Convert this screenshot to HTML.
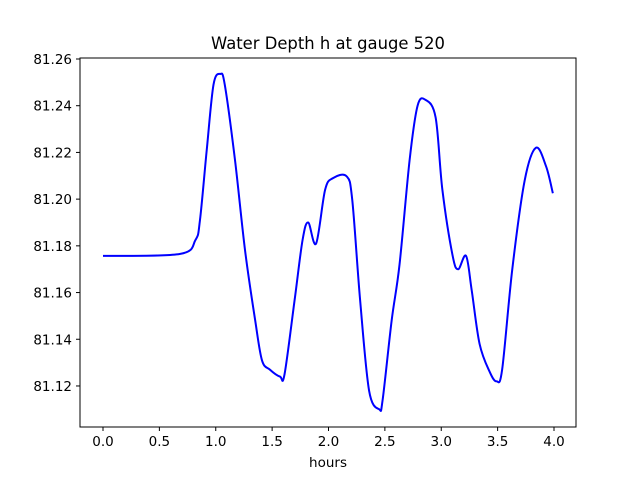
<!DOCTYPE html>
<html><head><meta charset="utf-8"><style>
body{margin:0;background:#fff;font-family:"DejaVu Sans","Liberation Sans",sans-serif}
svg text{font-family:"DejaVu Sans","Liberation Sans",sans-serif;font-size:13.5px;fill:#000}
</style></head><body>
<svg id="c" width="640" height="480">
<text x="328" y="49" text-anchor="middle" style="font-size:16.4px">Water Depth h at gauge 520</text>
<rect x="80" y="58" width="496" height="369" fill="none" stroke="#000" stroke-width="1"/>
<g id="xt"></g>
<g id="yt"></g>
<text x="328" y="467" text-anchor="middle">hours</text>
<path id="ln" fill="none" stroke="#0000ff" stroke-width="2"/>
</svg>
<script>
const xTicks=[0,0.5,1,1.5,2,2.5,3,3.5,4];
const xTickLabels=["0.0","0.5","1.0","1.5","2.0","2.5","3.0","3.5","4.0"];
const yTicks=[81.12,81.14,81.16,81.18,81.20,81.22,81.24,81.26];
const yTickLabels=["81.12","81.14","81.16","81.18","81.20","81.22","81.24","81.26"];
const hours=[0,0.68,0.82,0.86,0.92,0.98,1.04,1.08,1.17,1.26,1.35,1.41,1.48,1.57,1.61,1.70,1.77,1.82,1.89,1.97,2.04,2.16,2.21,2.28,2.36,2.45,2.48,2.56,2.63,2.72,2.79,2.86,2.95,3.01,3.10,3.15,3.22,3.27,3.34,3.43,3.49,3.54,3.63,3.74,3.84,3.93,3.99];
const depth=[81.1757,81.1765,81.1825,81.191,81.221,81.249,81.2536,81.249,81.217,81.178,81.148,81.131,81.127,81.124,81.125,81.157,81.1825,81.190,81.181,81.204,81.209,81.2098,81.200,81.157,81.118,81.110,81.114,81.148,81.172,81.217,81.240,81.2425,81.235,81.204,81.176,81.170,81.1757,81.161,81.138,81.126,81.122,81.127,81.170,81.208,81.222,81.214,81.2025];
const X=v=>103+v*112.75;
const Y=v=>59+(81.26-v)*2335.5;
const NS="http://www.w3.org/2000/svg";
const xt=document.getElementById('xt'),yt=document.getElementById('yt');
xTicks.forEach((t,i)=>{
 const l=document.createElementNS(NS,'line');
 
 
 l.setAttribute('x1',X(t));l.setAttribute('x2',X(t));l.setAttribute('y1',427);l.setAttribute('y2',431);l.setAttribute('stroke','#000');
 xt.appendChild(l);
 const s=document.createElementNS(NS,'text');
 
 
 s.setAttribute('x',X(t));s.setAttribute('y',446);s.setAttribute('text-anchor','middle');s.textContent=xTickLabels[i];
 xt.appendChild(s);
});
yTicks.forEach((t,i)=>{
 const l=document.createElementNS(NS,'line');
 
 
 l.setAttribute('x1',76);l.setAttribute('x2',80);l.setAttribute('y1',Y(t));l.setAttribute('y2',Y(t));l.setAttribute('stroke','#000');
 yt.appendChild(l);
 const s=document.createElementNS(NS,'text');
 
 
 s.setAttribute('x',72);s.setAttribute('y',Y(t)+5);s.setAttribute('text-anchor','end');s.textContent=yTickLabels[i];
 yt.appendChild(s);
});
const P=hours.map((h,i)=>[X(h),Y(depth[i])]);
let d='M'+P[0][0]+','+P[0][1];
for(let i=0;i<P.length-1;i++){
 const p0=P[Math.max(0,i-1)],p1=P[i],p2=P[i+1],p3=P[Math.min(P.length-1,i+2)];
 const c1=[p1[0]+(p2[0]-p0[0])/6,p1[1]+(p2[1]-p0[1])/6];
 const c2=[p2[0]-(p3[0]-p1[0])/6,p2[1]-(p3[1]-p1[1])/6];
 d+=' C'+c1+' '+c2+' '+p2;
}
document.getElementById('ln').setAttribute('d',d);
</script>
</body></html>
